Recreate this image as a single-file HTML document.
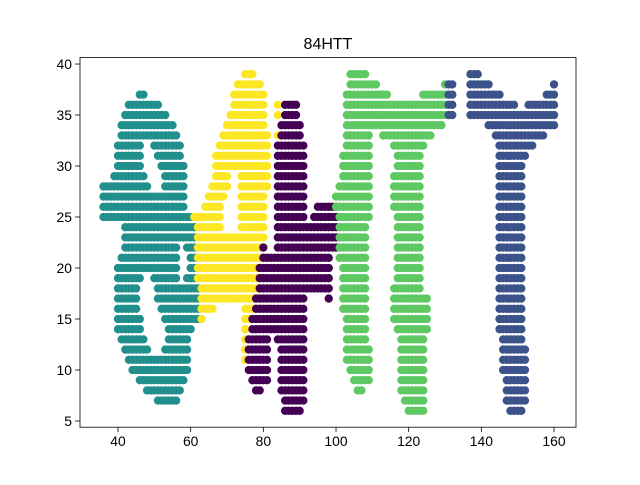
<!DOCTYPE html>
<html><head><meta charset="utf-8">
<style>
html,body{margin:0;padding:0;background:#fff;}
svg text{font-family:"Liberation Sans","DejaVu Sans",sans-serif;fill:#000;}
</style></head>
<body>
<svg id="chart" width="640" height="480" xmlns="http://www.w3.org/2000/svg">
<rect x="0" y="0" width="640" height="480" fill="#fff"/>
<text x="328" y="49" font-size="16" text-anchor="middle">84HTT</text>
<g id="marks"></g>
<g id="axes"></g>
</svg>
<script>
// runs: [y, xStart, xEnd] — one point per integer x in the run
const eightRuns = [[37,46,47],[36,43,51],[35,42,53],[34,41,55],[33,41,56],[32,40,46],[32,50,57],[31,40,46],[31,51,57],[30,40,46],[30,52,58],[29,39,47],[29,53,58],[28,36,48],[28,53,58],[27,36,58],[26,36,58],[25,36,61],[24,42,61],[23,42,61],[22,42,56],[22,59,61],[21,41,56],[21,60,61],[20,40,56],[20,60,61],[19,40,46],[19,50,56],[19,59,61],[18,40,45],[18,51,62],[17,40,45],[17,51,62],[16,40,45],[16,52,62],[15,40,46],[15,53,62],[14,40,46],[14,54,60],[13,41,47],[13,54,59],[12,42,48],[12,53,59],[11,43,59],[10,44,59],[9,46,58],[8,48,57],[7,51,56]];
const fourRuns = [[39,75,77],[38,73,79],[37,72,80],[36,72,80],[36,84,84],[35,71,80],[35,84,84],[34,70,80],[33,69,81],[33,84,84],[32,68,81],[31,67,81],[30,67,81],[29,67,70],[29,74,81],[28,66,70],[28,74,81],[27,65,69],[27,74,80],[26,64,68],[26,74,80],[25,61,68],[25,74,80],[24,62,68],[24,74,80],[23,62,80],[22,62,80],[21,62,80],[20,62,80],[19,62,79],[18,63,79],[17,63,79],[16,63,66],[16,75,79],[15,63,63],[15,75,76],[14,75,75],[13,75,75],[12,75,75],[11,75,75]];
const hRuns = [[36,86,89],[35,86,89],[34,85,90],[33,85,90],[32,84,91],[31,84,91],[30,84,91],[29,84,91],[28,84,91],[27,84,91],[26,84,91],[26,95,100],[25,84,91],[25,94,100],[24,84,100],[23,84,100],[22,80,80],[22,84,100],[21,80,98],[20,79,98],[19,79,98],[18,79,98],[17,78,91],[17,98,98],[16,78,91],[15,77,91],[14,77,91],[13,76,81],[13,84,91],[12,76,81],[12,85,91],[11,76,81],[11,85,91],[10,76,81],[10,85,91],[9,77,81],[9,85,91],[8,78,79],[8,85,91],[7,86,91],[6,86,90]];
const t1Runs = [[39,104,108],[38,104,111],[38,130,130],[37,103,114],[37,124,130],[36,103,130],[35,103,130],[34,103,129],[33,103,109],[33,113,126],[32,103,109],[32,116,124],[31,102,109],[31,117,123],[30,102,109],[30,117,123],[29,102,109],[29,116,123],[28,101,109],[28,116,123],[27,100,109],[27,116,123],[26,100,109],[26,116,123],[25,101,109],[25,117,123],[24,101,108],[24,117,123],[23,101,108],[23,117,123],[22,101,108],[22,117,123],[21,101,108],[21,117,123],[20,102,108],[20,117,123],[19,102,108],[19,117,123],[18,102,108],[18,116,123],[17,102,108],[17,116,125],[16,102,108],[16,116,125],[15,103,108],[15,116,125],[14,103,108],[14,117,125],[13,103,108],[13,118,124],[12,103,109],[12,118,124],[11,103,109],[11,118,124],[10,104,109],[10,118,124],[9,105,109],[9,118,124],[8,106,107],[8,118,124],[7,119,124],[6,120,124]];
const t2Runs = [[39,137,139],[38,131,132],[38,137,142],[38,160,160],[37,131,132],[37,137,145],[37,158,160],[36,131,132],[36,137,149],[36,153,160],[35,131,132],[35,137,160],[34,142,160],[33,144,157],[32,145,154],[31,145,152],[30,145,151],[29,145,151],[28,145,151],[27,145,151],[26,145,151],[25,145,151],[24,145,151],[23,145,151],[22,145,151],[21,145,151],[20,145,151],[19,145,151],[18,145,151],[17,145,151],[16,145,151],[15,145,151],[14,145,151],[13,146,151],[12,146,152],[11,146,152],[10,146,152],[9,147,152],[8,147,152],[7,147,152],[6,148,151]];
const seriesNames = ['digit-8','digit-4','letter-h','letter-t1','letter-t2'];
const seriesColors = ['#21908d','#fde725','#440154','#5ec962','#3b528b'];
const xTicks = [40,60,80,100,120,140,160];
const yTicks = [5,10,15,20,25,30,35,40];

const L=80,R=576,T=57.6,B=427.2;
const xMin=29.54,xMax=166.05,yMin=4.39,yMax=40.63;
function sx(v){return L+(v-xMin)/(xMax-xMin)*(R-L);}
function sy(v){return B-(v-yMin)/(yMax-yMin)*(B-T);}
const NS='http://www.w3.org/2000/svg';
const marks=document.getElementById('marks');
const allRuns=[eightRuns,fourRuns,hRuns,t1Runs,t2Runs];
allRuns.forEach(function(runs,si){
  const g=document.createElementNS(NS,'g');
  
  
  g.setAttribute('fill', seriesColors[si]);
  runs.forEach(function(r){
    for(let x=r[1];x<=r[2];x++){
      const c=document.createElementNS(NS,'circle');
      
      
      c.setAttribute('cx', sx(x).toFixed(2));
      c.setAttribute('cy', sy(r[0]).toFixed(2));
      c.setAttribute('r', '4.17');
      g.appendChild(c);
    }
  });
  marks.appendChild(g);
});
const axes=document.getElementById('axes');
const frame=document.createElementNS(NS,'rect');


frame.setAttribute('x',L);frame.setAttribute('y',T);
frame.setAttribute('width',R-L);frame.setAttribute('height',B-T);
frame.setAttribute('fill','none');frame.setAttribute('stroke','#000');frame.setAttribute('stroke-width','0.8');
axes.appendChild(frame);
xTicks.forEach(function(v){
  const x=sx(v);
  const t=document.createElementNS(NS,'line');
  
  
  t.setAttribute('x1',x);t.setAttribute('x2',x);t.setAttribute('y1',B);t.setAttribute('y2',B+4.9);
  t.setAttribute('stroke','#000');t.setAttribute('stroke-width','0.8');
  axes.appendChild(t);
  const tx=document.createElementNS(NS,'text');
  
  
  tx.setAttribute('x',x);tx.setAttribute('y',B+19);
  tx.setAttribute('font-size','13.9');tx.setAttribute('text-anchor','middle');
  tx.textContent=v;
  axes.appendChild(tx);
});
yTicks.forEach(function(v){
  const y=sy(v);
  const t=document.createElementNS(NS,'line');
  
  
  t.setAttribute('x1',L-4.9);t.setAttribute('x2',L);t.setAttribute('y1',y);t.setAttribute('y2',y);
  t.setAttribute('stroke','#000');t.setAttribute('stroke-width','0.8');
  axes.appendChild(t);
  const tx=document.createElementNS(NS,'text');
  
  
  tx.setAttribute('x',L-8);tx.setAttribute('y',y+5);
  tx.setAttribute('font-size','13.9');tx.setAttribute('text-anchor','end');
  tx.textContent=v;
  axes.appendChild(tx);
});
</script>
</body></html>
